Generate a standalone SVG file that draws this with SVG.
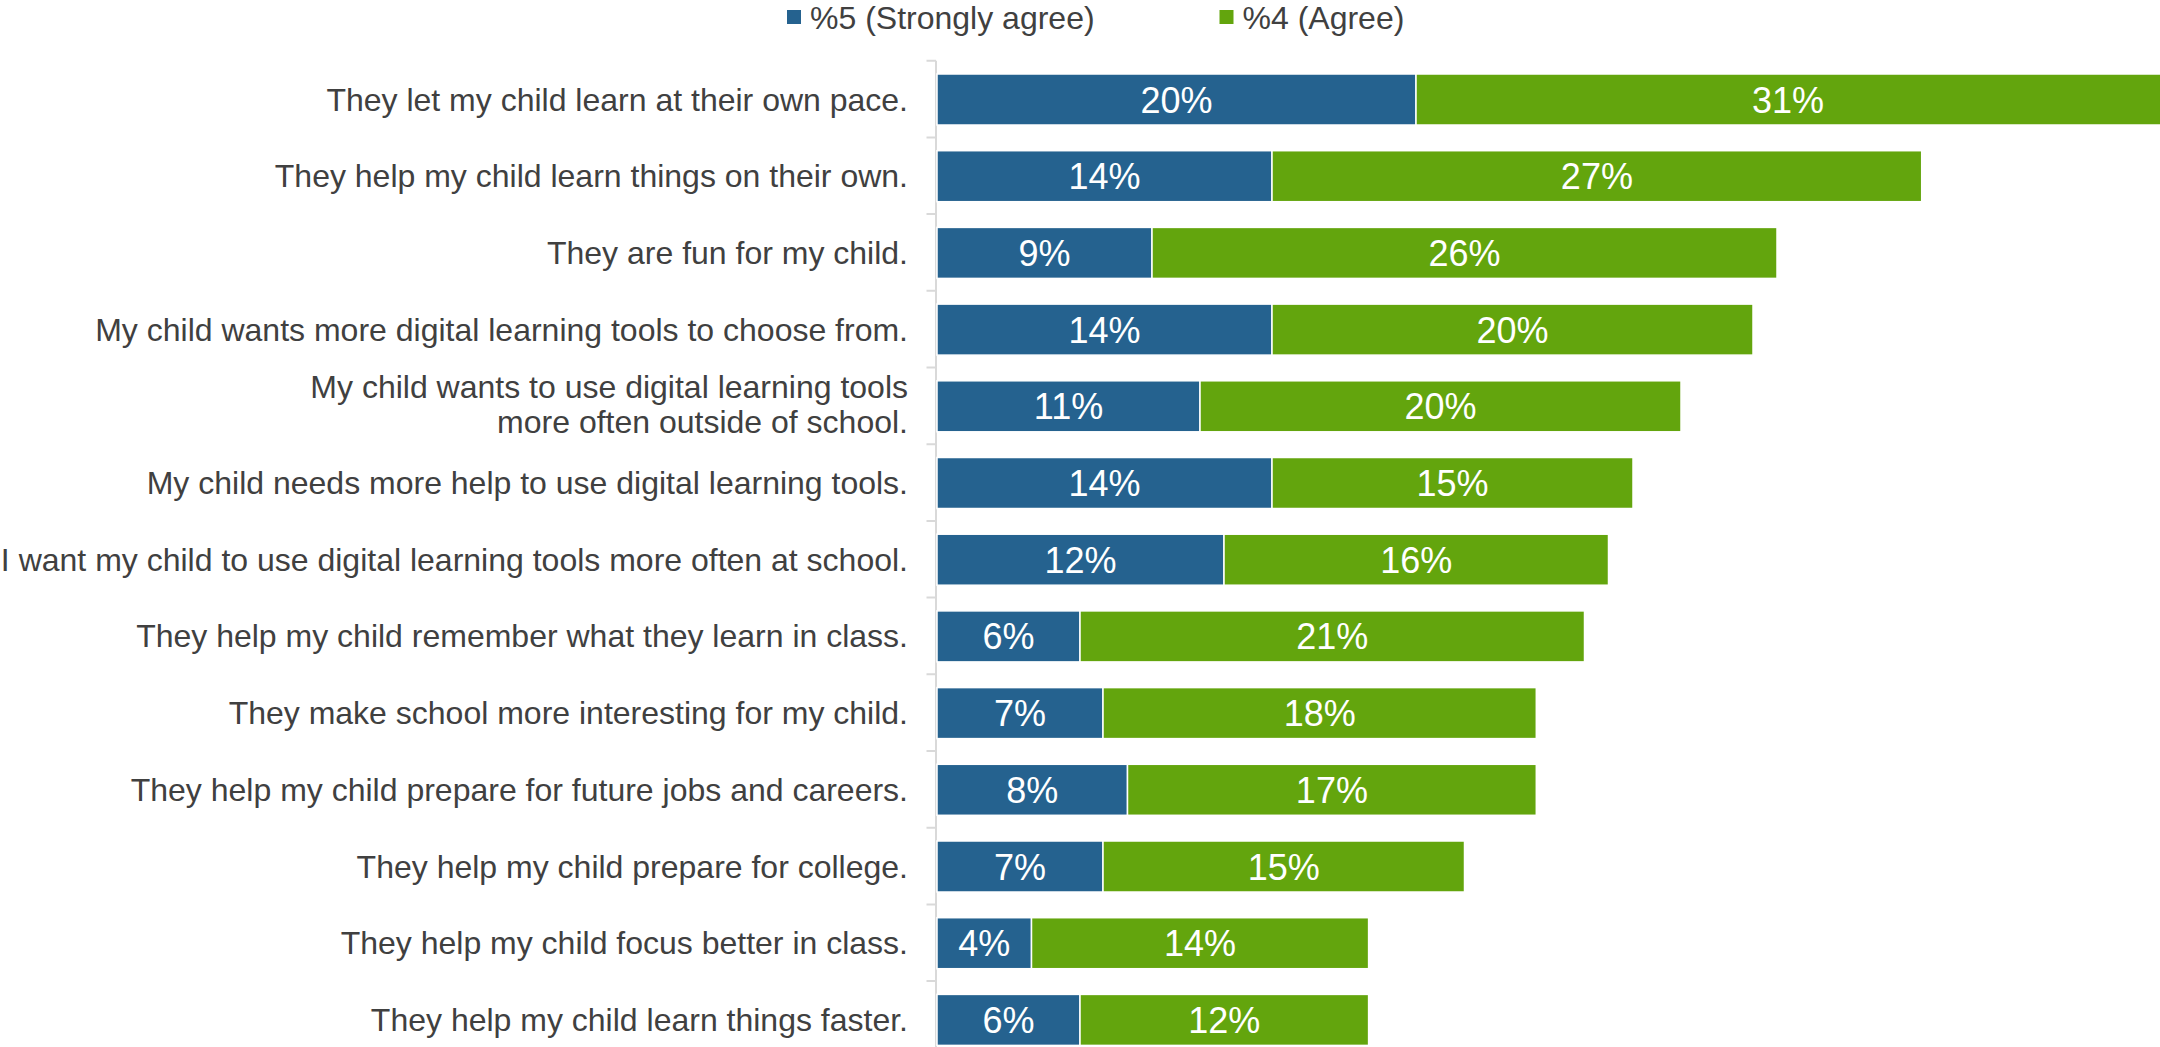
<svg xmlns="http://www.w3.org/2000/svg" width="2160" height="1047" viewBox="0 0 2160 1047">
<style>
.lbl{font-family:"Liberation Sans",Arial,sans-serif;font-size:32px;fill:#404040;text-anchor:end}
.leg{font-family:"Liberation Sans",Arial,sans-serif;font-size:32px;fill:#404040}
.val{font-family:"Liberation Sans",Arial,sans-serif;font-size:36px;fill:#ffffff;text-anchor:middle}
.b{fill:#25628F;stroke:#ffffff;stroke-width:1.5}
.g{fill:#63A50D;stroke:#ffffff;stroke-width:1.5}
.ax{stroke:#d9d9d9;stroke-width:2;fill:none}
</style>
<rect width="2160" height="1047" fill="#ffffff"/>
<g id="legend">
<rect x="787" y="10" width="14" height="14" fill="#25628F"/>
<text class="leg" x="810" y="29">%5 (Strongly agree)</text>
<rect x="1219.5" y="10" width="14" height="14" fill="#63A50D"/>
<text class="leg" x="1242.5" y="29">%4 (Agree)</text>
</g>
<g id="axis">
<path class="ax" d="M936 60.7V1047 M926.5 60.7H936 M926.5 137.4H936 M926.5 214.1H936 M926.5 290.8H936 M926.5 367.5H936 M926.5 444.2H936 M926.5 520.9H936 M926.5 597.6H936 M926.5 674.3H936 M926.5 751H936 M926.5 827.7H936 M926.5 904.4H936 M926.5 981.1H936"/>
</g>
<g id="row1">
<text class="lbl" x="908" y="110.5">They let my child learn at their own pace.</text>
<rect class="b" x="937" y="74" width="479" height="51"/>
<rect class="g" x="1416" y="74" width="746" height="51"/>
<text class="val" x="1176.5" y="112.5">20%</text>
<text class="val" x="1788" y="112.5">31%</text>
</g>
<g id="row2">
<text class="lbl" x="908" y="187.2">They help my child learn things on their own.</text>
<rect class="b" x="937" y="150.7" width="335" height="51"/>
<rect class="g" x="1272" y="150.7" width="649.7" height="51"/>
<text class="val" x="1104.5" y="189.2">14%</text>
<text class="val" x="1596.9" y="189.2">27%</text>
</g>
<g id="row3">
<text class="lbl" x="908" y="263.9">They are fun for my child.</text>
<rect class="b" x="937" y="227.4" width="215" height="51"/>
<rect class="g" x="1152" y="227.4" width="625" height="51"/>
<text class="val" x="1044.5" y="265.9">9%</text>
<text class="val" x="1464.5" y="265.9">26%</text>
</g>
<g id="row4">
<text class="lbl" x="908" y="340.6">My child wants more digital learning tools to choose from.</text>
<rect class="b" x="937" y="304.1" width="335" height="51"/>
<rect class="g" x="1272" y="304.1" width="481" height="51"/>
<text class="val" x="1104.5" y="342.6">14%</text>
<text class="val" x="1512.5" y="342.6">20%</text>
</g>
<g id="row5">
<text class="lbl" x="908" y="397.5">My child wants to use digital learning tools</text>
<text class="lbl" x="908" y="433">more often outside of school.</text>
<rect class="b" x="937" y="380.8" width="263" height="51"/>
<rect class="g" x="1200" y="380.8" width="481" height="51"/>
<text class="val" x="1068.5" y="419.3">11%</text>
<text class="val" x="1440.5" y="419.3">20%</text>
</g>
<g id="row6">
<text class="lbl" x="908" y="494">My child needs more help to use digital learning tools.</text>
<rect class="b" x="937" y="457.5" width="335" height="51"/>
<rect class="g" x="1272" y="457.5" width="361" height="51"/>
<text class="val" x="1104.5" y="496">14%</text>
<text class="val" x="1452.5" y="496">15%</text>
</g>
<g id="row7">
<text class="lbl" x="908" y="570.7">I want my child to use digital learning tools more often at school.</text>
<rect class="b" x="937" y="534.2" width="287" height="51"/>
<rect class="g" x="1224" y="534.2" width="384.5" height="51"/>
<text class="val" x="1080.5" y="572.7">12%</text>
<text class="val" x="1416.3" y="572.7">16%</text>
</g>
<g id="row8">
<text class="lbl" x="908" y="647.4">They help my child remember what they learn in class.</text>
<rect class="b" x="937" y="610.9" width="143" height="51"/>
<rect class="g" x="1080" y="610.9" width="504.5" height="51"/>
<text class="val" x="1008.5" y="649.4">6%</text>
<text class="val" x="1332.3" y="649.4">21%</text>
</g>
<g id="row9">
<text class="lbl" x="908" y="724.1">They make school more interesting for my child.</text>
<rect class="b" x="937" y="687.6" width="166" height="51"/>
<rect class="g" x="1103" y="687.6" width="433.3" height="51"/>
<text class="val" x="1020" y="726.1">7%</text>
<text class="val" x="1319.7" y="726.1">18%</text>
</g>
<g id="row10">
<text class="lbl" x="908" y="800.8">They help my child prepare for future jobs and careers.</text>
<rect class="b" x="937" y="764.3" width="190.5" height="51"/>
<rect class="g" x="1127.5" y="764.3" width="408.8" height="51"/>
<text class="val" x="1032.3" y="802.8">8%</text>
<text class="val" x="1331.9" y="802.8">17%</text>
</g>
<g id="row11">
<text class="lbl" x="908" y="877.5">They help my child prepare for college.</text>
<rect class="b" x="937" y="841" width="166" height="51"/>
<rect class="g" x="1103" y="841" width="361.5" height="51"/>
<text class="val" x="1020" y="879.5">7%</text>
<text class="val" x="1283.8" y="879.5">15%</text>
</g>
<g id="row12">
<text class="lbl" x="908" y="954.2">They help my child focus better in class.</text>
<rect class="b" x="937" y="917.7" width="94.5" height="51"/>
<rect class="g" x="1031.5" y="917.7" width="337.1" height="51"/>
<text class="val" x="984.3" y="956.2">4%</text>
<text class="val" x="1200" y="956.2">14%</text>
</g>
<g id="row13">
<text class="lbl" x="908" y="1030.9">They help my child learn things faster.</text>
<rect class="b" x="937" y="994.4" width="143" height="51"/>
<rect class="g" x="1080" y="994.4" width="288.6" height="51"/>
<text class="val" x="1008.5" y="1032.9">6%</text>
<text class="val" x="1224.3" y="1032.9">12%</text>
</g>
</svg>
